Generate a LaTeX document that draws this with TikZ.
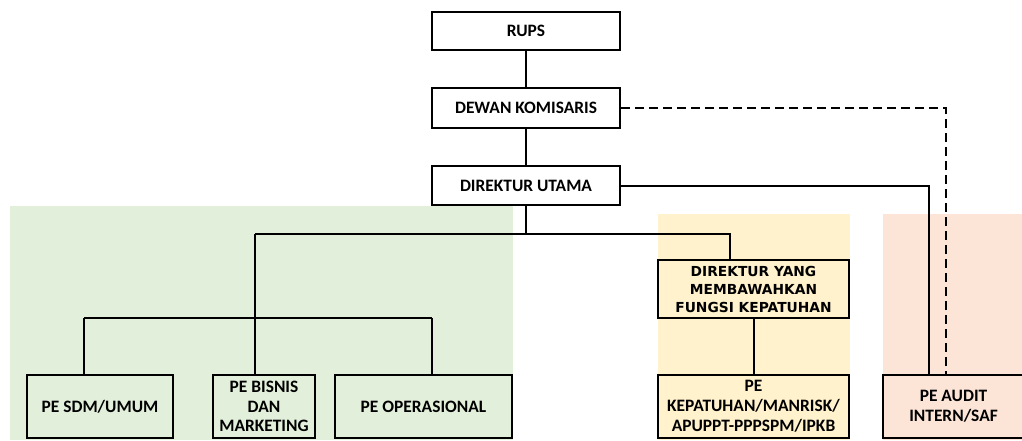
\documentclass[tikz,border=0pt]{standalone}
\usepackage{fontspec}
\setmainfont{Carlito}
\newfontfamily\kepfont{DejaVu Sans}
\usetikzlibrary{positioning,calc}
\definecolor{opsgreen}{RGB}{226,239,218}
\definecolor{kepyellow}{RGB}{255,242,204}
\definecolor{auditpink}{RGB}{252,228,214}

\begin{document}
\begin{tikzpicture}[x=1pt, y=-1pt, font=\bfseries\fontsize{17.4}{20}\selectfont]
\tikzset{unit/.style={draw, line width=2.4pt, align=center, inner sep=1pt},
         link/.style={line width=2pt}}
\useasboundingbox (0,0) rectangle (1022,440);

% Background areas
\fill[opsgreen] (10,206) rectangle (513,440);
\fill[kepyellow] (658,214) rectangle (850,440);
\fill[auditpink] (883,214) rectangle (1022,440);

% Top of the structure
\node(rups)[unit,fill=white,minimum width=188pt,minimum height=38pt] at (526,31){RUPS};
\node(dewan)[unit,fill=white,minimum width=188pt,minimum height=40pt] at (526,108){DEWAN KOMISARIS};
\node(dirut)[unit,fill=white,minimum width=188pt,minimum height=39pt] at (526,185.5){DIREKTUR UTAMA};

% Compliance and audit
\node(dirkep)[unit,fill=kepyellow,minimum width=191pt,minimum height=58pt,font=\kepfont\bfseries\fontsize{13.8}{18}\selectfont] at (753.5,289){DIREKTUR YANG\\MEMBAWAHKAN\\FUNGSI KEPATUHAN};
\node(pekep)[unit,fill=kepyellow,minimum width=191pt,minimum height=63pt] at (753.5,406.5){PE\\KEPATUHAN/MANRISK/\\APUPPT-PPPSPM/IPKB};
\node(peaudit)[unit,fill=auditpink,minimum width=141pt,minimum height=63pt] at (953.5,406.5){PE AUDIT\\INTERN/SAF};

% Operational units
\node(pesdm)[unit,minimum width=146pt,minimum height=63pt] at (100,406.5){PE SDM/UMUM};
\node(pebis)[unit,minimum width=102pt,minimum height=63pt,font=\bfseries\fontsize{17.4}{19.5}\selectfont] at (264,406.5){PE BISNIS\\DAN\\MARKETING};
\node(peops)[unit,minimum width=177pt,minimum height=63pt] at (423.5,406.5){PE OPERASIONAL};

% Junctions
\coordinate(jmain) at (526,234);
\coordinate(jops) at (255,234);
\coordinate(jkep) at (730,234);
\coordinate(jsub) at (255,318);
\coordinate(jsdm) at (84,318);
\coordinate(jopr) at (432,318);
\coordinate(jaud) at (929,185.5);
\coordinate(jdew) at (946,108);

% Lines
\draw[link] (rups.south) -- (dewan.north);
\draw[link] (dewan.south) -- (dirut.north);
\draw[link] (dirut.south) -- (jmain);
\draw[link] (jops) -- (jkep) -- (dirkep.north -| jkep);
\draw[link] (jops) -- (jsub);
\draw[link] (jsdm) -- (jopr);
\draw[link] (jsdm) -- (pesdm.north -| jsdm);
\draw[link] (jsub) -- (pebis.north -| jsub);
\draw[link] (jopr) -- (peops.north -| jopr);
\draw[link] (dirkep.south) -- (pekep.north);
\draw[link] (dirut.east) -- (jaud) -- (peaudit.north -| jaud);
\draw[link,dash pattern=on 9pt off 5pt] (dewan.east) -- (jdew) -- (peaudit.north -| jdew);
\end{tikzpicture}
\end{document}
